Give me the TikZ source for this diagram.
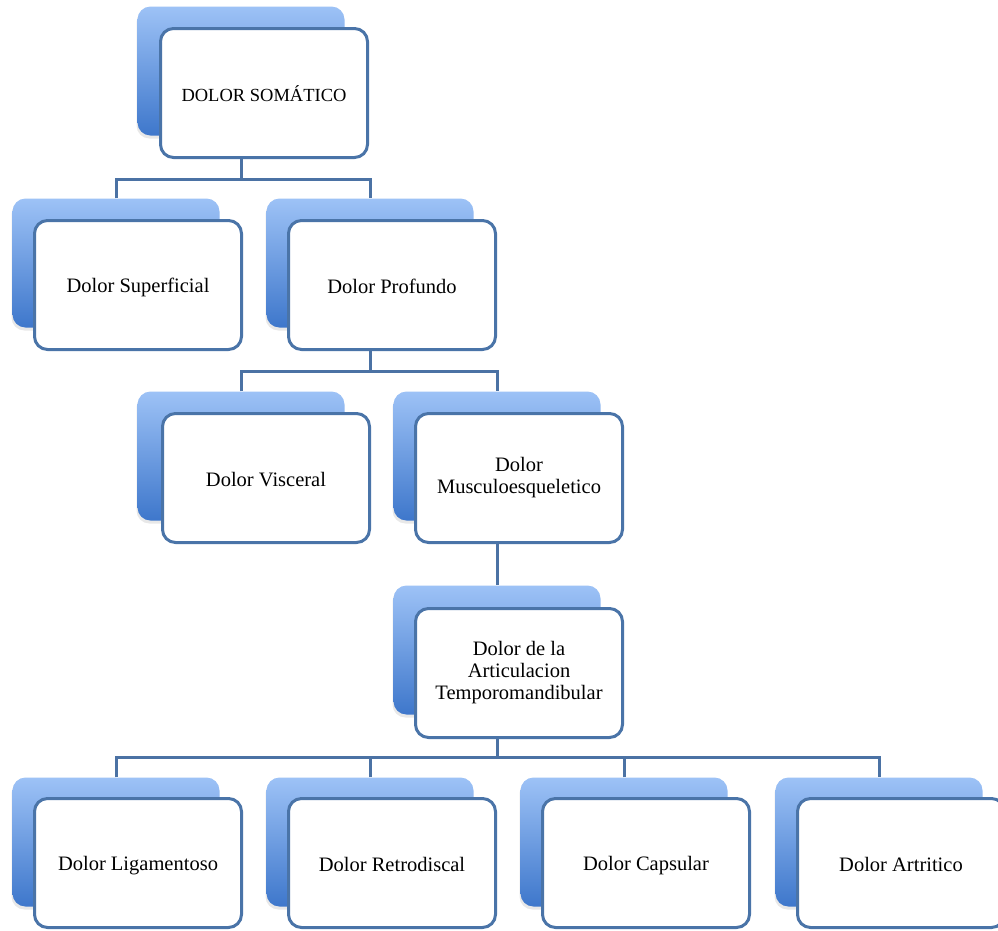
\documentclass[tikz,border=0pt]{standalone}
\usepackage{fontspec}
\setmainfont{Liberation Serif}
\usetikzlibrary{shadows}
\definecolor{backtop}{HTML}{9DC2F6}
\definecolor{backbot}{HTML}{3E77CB}
\definecolor{frameblue}{HTML}{4A74A8}
\definecolor{linkblue}{HTML}{4B72A4}
\newcommand{\boxstrut}{\rule[-3pt]{0pt}{23pt}}
\tikzset{
  backbox/.style={rectangle, rounded corners=13pt, minimum width=207pt, minimum height=129pt,
    top color=backtop, bottom color=backbot, draw=none,
    drop shadow={opacity=0.18, shadow xshift=-1pt, shadow yshift=-3pt}},
  frontbox/.style={rectangle, rounded corners=13pt, minimum width=207pt, minimum height=129pt,
    fill=white, draw=frameblue, line width=3pt, align=center, inner sep=0pt,
    font=\fontsize{20.5}{22}\selectfont,
    execute at begin node={\boxstrut}, execute at end node={\boxstrut}},
  conn/.style={draw=linkblue, line width=3pt}
}
\begin{document}
\begin{tikzpicture}[x=1pt,y=-1pt]
\clip (0,0) rectangle (998,930);
\fill[white] (0,0) rectangle (998,930);
% back boxes
\node[backbox] (somb) at (241,71) {};
\node[backbox] (supb) at (116,263) {};
\node[backbox] (prob) at (370,263) {};
\node[backbox] (visb) at (241,456) {};
\node[backbox] (musb) at (497,456) {};
\node[backbox] (atmb) at (497,650) {};
\node[backbox] (ligb) at (116,842) {};
\node[backbox] (retb) at (370,842) {};
\node[backbox] (capb) at (624,842) {};
\node[backbox] (artb) at (879,842) {};
% front boxes
\node[frontbox, font=\fontsize{18.5}{22}\selectfont] (somf) at (264,93) {DOLOR SOMÁTICO};
\node[frontbox] (supf) at (138,285) {Dolor Superficial};
\node[frontbox] (prof) at (392,285) {Dolor Profundo};
\node[frontbox] (visf) at (266,478) {Dolor Visceral};
\node[frontbox] (musf) at (519,478) {Dolor\\Musculoesqueletico};
\node[frontbox] (atmf) at (519,673) {Dolor de la\\Articulacion\\Temporomandibular};
\node[frontbox] (ligf) at (138,863) {Dolor Ligamentoso};
\node[frontbox] (retf) at (392,863) {Dolor Retrodiscal};
\node[frontbox] (capf) at (646,863) {Dolor Capsular};
\node[frontbox] (artf) at (901,863) {Dolor Artritico};
% bus coordinates
\coordinate (bus1) at (0,179);
\coordinate (bus2) at (0,371);
\coordinate (bus3) at (0,757);
% connectors
\draw[conn] (somb.south |- somf.south) -- (somb.south |- bus1);
\draw[conn] (supb.north) |- (prob.north |- bus1) -- (prob.north);
\draw[conn] (prob.south |- prof.south) -- (prob.south |- bus2);
\draw[conn] (visb.north) |- (musb.north |- bus2) -- (musb.north);
\draw[conn] (musb.south |- musf.south) -- (atmb.north);
\draw[conn] (atmb.south |- atmf.south) -- (atmb.south |- bus3);
\draw[conn] (ligb.north) |- (artb.north |- bus3) -- (artb.north);
\draw[conn] (retb.north) -- (retb.north |- bus3);
\draw[conn] (capb.north) -- (capb.north |- bus3);
\end{tikzpicture}
\end{document}
